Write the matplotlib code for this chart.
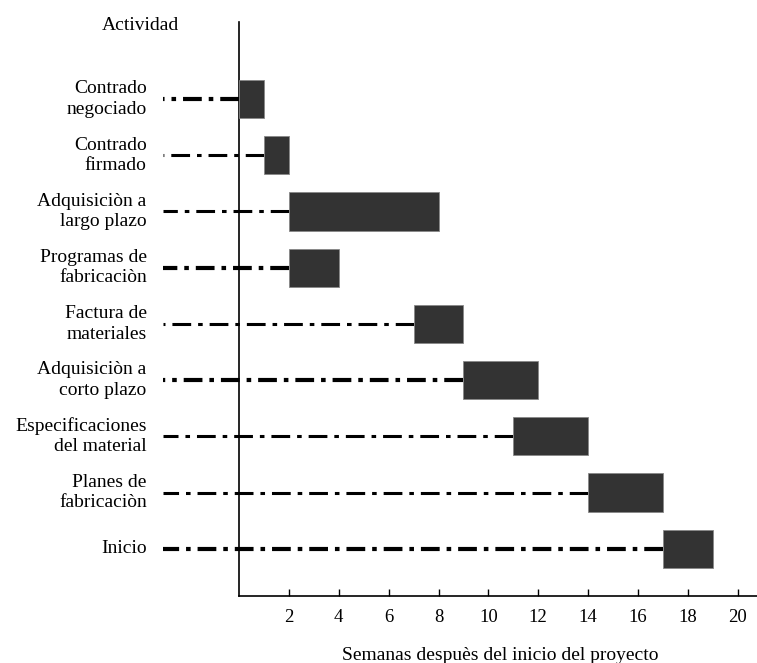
import matplotlib
matplotlib.use("Agg")
import matplotlib.pyplot as plt

plt.rcParams['font.family'] = ['Liberation Serif', 'DejaVu Serif']
plt.rcParams['lines.scale_dashes'] = False

activities = ["Contrado\nnegociado", "Contrado\nfirmado", "Adquisiciòn a\nlargo plazo",
              "Programas de\nfabricaciòn", "Factura de\nmateriales", "Adquisiciòn a\ncorto plazo",
              "Especificaciones\ndel material", "Planes de\nfabricaciòn", "Inicio"]
starts = [0, 1, 2, 2, 7, 9, 11, 14, 17]
ends = [1, 2, 8, 4, 9, 12, 14, 17, 19]
thick = [True, False, False, True, False, True, False, False, True]
xticks = [2, 4, 6, 8, 10, 12, 14, 16, 18, 20]

W, H = 757, 663
fig = plt.figure(figsize=(W/100, H/100), dpi=100)
left, right, bottom, top = 239, 757, 596, 22
ax = fig.add_axes([left/W, 1-bottom/H, (right-left)/W, (bottom-top)/H])

ax.set_xlim(0, (right-left)/24.94)
ax.set_ylim(8.84, -1.37)

line_x0 = -3.05
for i, (s, e, t) in enumerate(zip(starts, ends, thick)):
    # drawn from the bar outward so a dash always touches the bar
    ax.plot([s, line_x0], [i, i], color='black', lw=3.0 if t else 2.2,
            linestyle=(0, (13.5, 5.0, 3.3, 5.0)), clip_on=False, zorder=1,
            solid_capstyle='butt', dash_capstyle='butt')
    ax.barh(i, e - s, left=s, height=0.68, color='#333333', edgecolor='#888888',
            linewidth=0.6, zorder=3)

ax.set_yticks(range(len(activities)))
ax.set_yticklabels([])
for i, a in enumerate(activities):
    ax.text(-3.7, i, a, ha='right', va='center', fontsize=14, linespacing=1.25,
            clip_on=False)

ax.set_xticks(xticks)
ax.set_xticklabels([str(x) for x in xticks], fontsize=13.5)
ax.tick_params(axis='x', direction='in', length=5, width=1, pad=9)
ax.tick_params(axis='y', length=0)

for sp in ['top', 'right']:
    ax.spines[sp].set_visible(False)
for sp in ['left', 'bottom']:
    ax.spines[sp].set_linewidth(1.2)
    ax.spines[sp].set_zorder(2)

fig.text(140/W, 1-25/H, "Actividad", ha='center', va='center', fontsize=14)
fig.text(500/W, 1-655/H, "Semanas despuès del inicio del proyecto", ha='center',
         va='center', fontsize=14)

fig.savefig("out.png", dpi=100)
